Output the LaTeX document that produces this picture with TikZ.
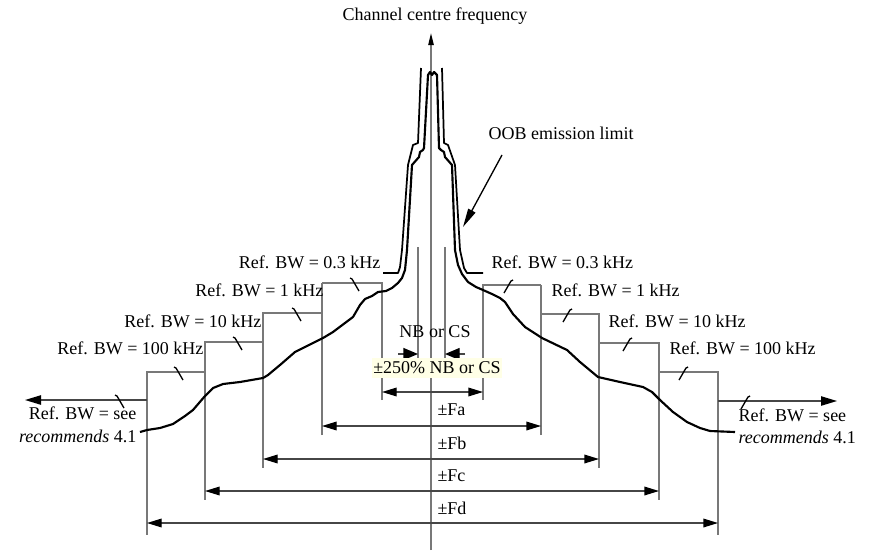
\documentclass[tikz,border=0pt]{standalone}
\usepackage{fontspec}
\setmainfont{Liberation Serif}
\usetikzlibrary{arrows.meta}

\definecolor{boxgrey}{RGB}{120,120,120}
\definecolor{dimgrey}{RGB}{70,70,70}
\definecolor{notecream}{RGB}{255,255,230}

\tikzset{every picture/.style={line width=0.9pt}}
\tikzset{
  lbl/.style={font=\fontsize{13.5}{16}\selectfont, inner sep=0.75pt},
  boxline/.style={draw=boxgrey, line width=1pt},
  maskline/.style={draw=black, line width=1.3pt, line join=round},
  specline/.style={draw=black, line width=1.6pt, line join=round},
  dimline/.style={draw=dimgrey, line width=1pt, {Triangle[length=11pt,width=6.5pt,color=black]}-{Triangle[length=11pt,width=6.5pt,color=black]}},
  seeline/.style={draw=dimgrey, line width=1pt, -{Triangle[length=12pt,width=7pt,color=black]}},
  nbarrow/.style={draw=dimgrey, line width=1pt, -{Triangle[length=11pt,width=9pt,color=black]}},
  brkline/.style={draw=black, line width=1pt},
}
\newcommand{\brkleft}[2]{\draw[brkline] (#1-5,#2-5) -- (#1-3,#2-4) -- (#1+4,#2+8);}
\newcommand{\brkright}[2]{\draw[brkline] (#1+5,#2-5) -- (#1+3,#2-4) -- (#1-4,#2+8);}

\begin{document}
\begin{tikzpicture}[x=0.75pt,y=0.75pt,yscale=-1,xscale=1]
\useasboundingbox (0,0) rectangle (870,557);

%Axis
\coordinate (axbot) at (431,550);
\coordinate (axtop) at (431,33);
\draw [draw=boxgrey, line width=1pt, -{Triangle[length=9pt,width=4pt,color=black]}] (axbot) -- (axtop);

%Staircase, left side
\draw [boxline] (382,400) -- (382,283) -- (322,283) ;
\draw [boxline] (322,435) -- (322,283) ;
\draw [boxline] (322,313) -- (263,313) -- (263,468) ;
\draw [boxline] (263,342) -- (205,342) -- (205,500) ;
\draw [boxline] (205,372) -- (147,372) -- (147,535) ;
\coordinate (seel0) at (147,400);
\coordinate (seel1) at (25,400);
\draw [seeline] (seel0) -- (seel1) ;

%Staircase, right side
\draw [boxline] (483,400) -- (483,285) -- (541,285) ;
\draw [boxline] (541,435) -- (541,285) ;
\draw [boxline] (541,314) -- (599,314) -- (599,468) ;
\draw [boxline] (599,343) -- (659,343) -- (659,500) ;
\draw [boxline] (659,372) -- (718,372) -- (718,535) ;
\coordinate (seer0) at (718,401);
\coordinate (seer1) at (837,401);
\draw [seeline] (seer0) -- (seer1) ;

%Break marks
\brkleft{355}{283}
\brkleft{297}{313}
\brkleft{238}{342}
\brkleft{179}{372}
\brkleft{120}{400}
\brkright{508}{285}
\brkright{567}{314}
\brkright{627}{343}
\brkright{683}{372}
\brkright{745}{401}

%NB lines
\draw [boxline] (418,247) -- (418,358) ;
\draw [boxline] (445,247) -- (445,358) ;
\coordinate (nbl0) at (398,354);
\coordinate (nbl1) at (418,354);
\coordinate (nbr0) at (465,354);
\coordinate (nbr1) at (445,354);
\draw [nbarrow] (nbl0) -- (nbl1) ;
\draw [nbarrow] (nbr0) -- (nbr1) ;

%Dimension arrows
\coordinate (p250l) at (382,392);
\coordinate (p250r) at (483,392);
\coordinate (fal) at (322,426);
\coordinate (far) at (541,426);
\coordinate (fbl) at (263,459);
\coordinate (fbr) at (599,459);
\coordinate (fcl) at (205,491);
\coordinate (fcr) at (659,491);
\coordinate (fdl) at (147,523);
\coordinate (fdr) at (718,523);
\draw [dimline] (p250l) -- (p250r) ;
\draw [dimline] (fal) -- (far) ;
\draw [dimline] (fbl) -- (fbr) ;
\draw [dimline] (fcl) -- (fcr) ;
\draw [dimline] (fdl) -- (fdr) ;

%Emission limit mask
\draw [maskline] (421,68) -- (418,143) -- (413,145) -- (408,165) -- (402,250) -- (400,267) -- (398,273) -- (383,273) ;
\draw [maskline] (442,68) -- (444,143) -- (448,145) -- (455,165) -- (460,250) -- (464,268) -- (467,273) -- (483,273) ;

%Measured spectrum
\draw [specline] (140,432) -- (147,430) -- (160,428) -- (173,424) -- (185,416) -- (193,410) -- (205,396) -- (213,388) -- (223,384) -- (240,382) -- (263,378) -- (268,375) -- (280,365) -- (295,352) -- (307,346) -- (323,338) -- (333,332) -- (353,317) -- (360,305) -- (365,299) -- (372,296) -- (378,292) -- (386,291) -- (392,288) -- (398,283) -- (402,278) -- (405,270) -- (407,250) -- (412,165) -- (419,157) -- (420,152) -- (423,150) -- (424,148) -- (428,75) -- (430,72) -- (432,75) -- (434,72) -- (437,75) -- (439,148) -- (441,150) -- (444,152) -- (445,157) -- (452,165) -- (455,250) -- (458,265) -- (462,274) -- (468,282) -- (476,287) -- (483,290) -- (492,294) -- (500,298) -- (505,302) -- (513,314) -- (525,327) -- (542,338) -- (567,350) -- (580,362) -- (598,377) -- (620,382) -- (643,387) -- (652,392) -- (660,400) -- (673,412) -- (687,422) -- (700,428) -- (710,431) -- (735,432) ;

% Text Node
\node [lbl] (title) at (435,16) {Channel centre frequency};
% Text Node
\node [lbl, anchor=west] (oob) at (487,133) {OOB emission limit};
\coordinate (oobtip) at (463,227);
\draw [draw=black, line width=1pt, -{Triangle[length=14pt,width=6pt]}] (502,155) -- (oobtip) ;
% Text Node
\node [lbl, anchor=east] (l03) at (382,262) {Ref. BW = 0.3 kHz};
% Text Node
\node [lbl, anchor=east] (l1) at (325,290) {Ref. BW = 1 kHz};
% Text Node
\node [lbl, anchor=east] (l10) at (263,321) {Ref. BW = 10 kHz};
% Text Node
\node [lbl, anchor=east] (l100) at (205,348) {Ref. BW = 100 kHz};
% Text Node
\node [lbl, anchor=west] (r03) at (490,262) {Ref. BW = 0.3 kHz};
% Text Node
\node [lbl, anchor=west] (r1) at (550,290) {Ref. BW = 1 kHz};
% Text Node
\node [lbl, anchor=west] (r10) at (607,321) {Ref. BW = 10 kHz};
% Text Node
\node [lbl, anchor=west] (r100) at (668,348) {Ref. BW = 100 kHz};
% Text Node
\node [lbl, anchor=east] (lsee) at (138,413) {Ref. BW = see};
\node [lbl, anchor=east] (lrec) at (138,436) {\textit{recommends} 4.1};
% Text Node
\node [lbl, anchor=west] (rsee) at (737,415) {Ref. BW = see};
\node [lbl, anchor=west] (rrec) at (737,437) {\textit{recommends} 4.1};
% Text Node
\node [lbl] (nb) at (435,332) {NB or CS};
% Text Node
\node [lbl, fill=notecream, inner xsep=1pt, inner ysep=3pt] (nb250) at (437,368) {±250\% NB or CS};
% Text Node
\node [lbl, anchor=west] (fa) at (436,410) {±Fa};
\node [lbl, anchor=west] (fb) at (436,443) {±Fb};
\node [lbl, anchor=west] (fc) at (436,476) {±Fc};
\node [lbl, anchor=west] (fd) at (436,508) {±Fd};

\end{tikzpicture}
\end{document}
